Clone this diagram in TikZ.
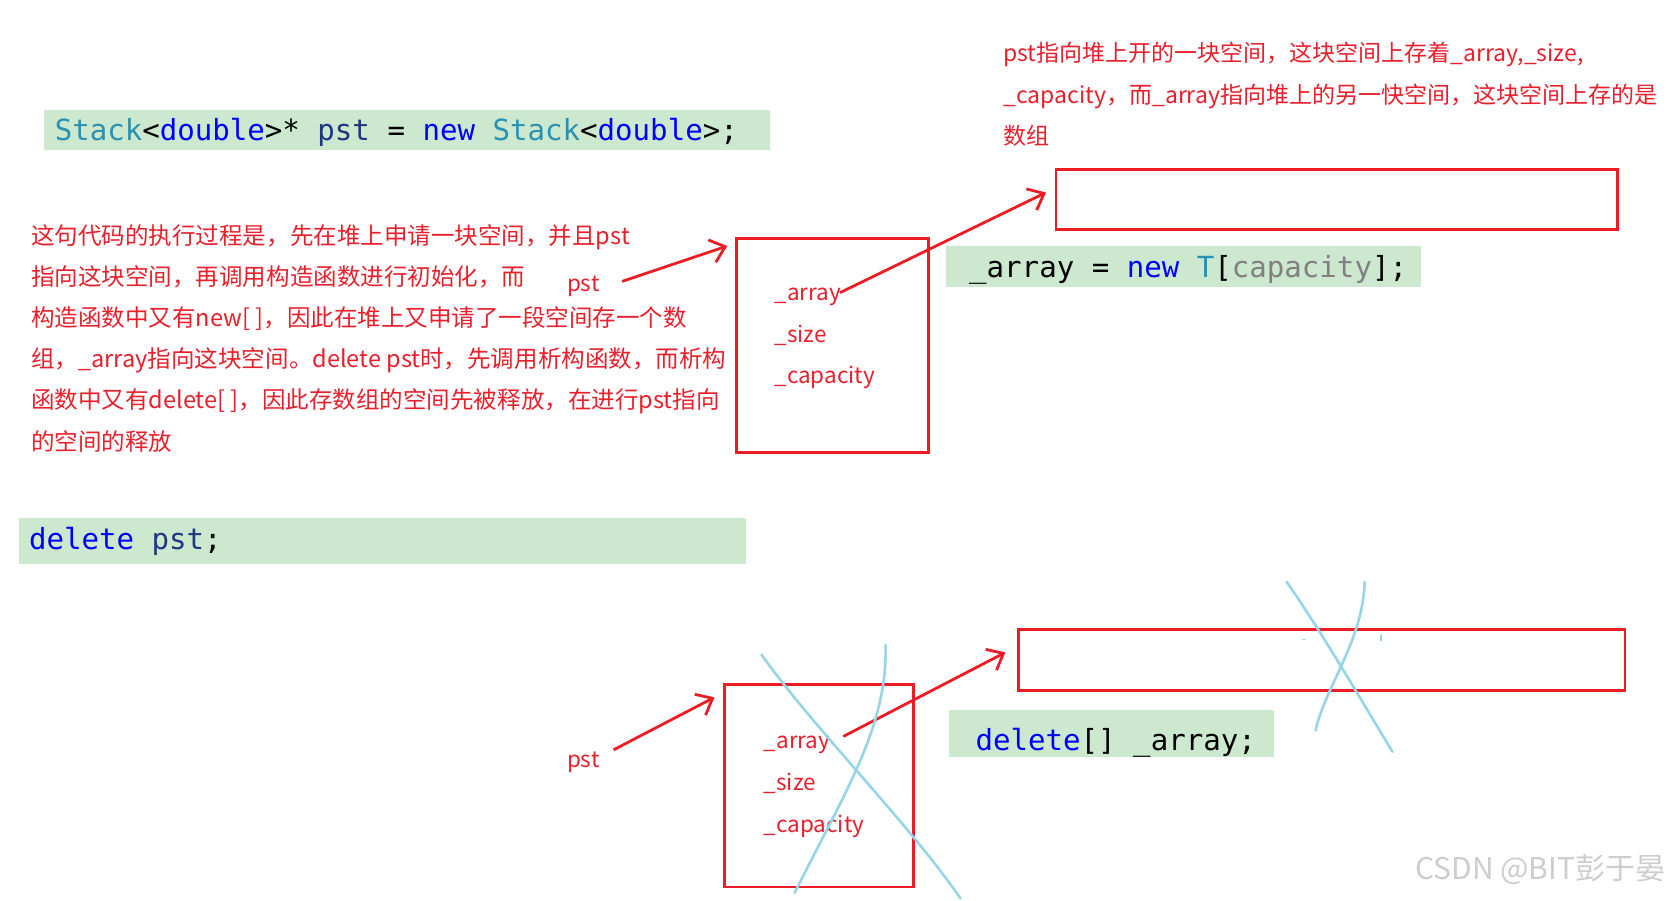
\documentclass[tikz,border=0pt]{standalone}
\usepackage{fontspec}
\setmainfont{Noto Sans CJK SC}
\newfontfamily\codefont{DejaVu Sans Mono}
\usetikzlibrary{arrows.meta,calc}
\definecolor{redc}{RGB}{237,28,36}
\definecolor{txtred}{RGB}{232,32,44}
\definecolor{codebg}{RGB}{204,232,207}
\definecolor{kwblue}{RGB}{0,0,255}
\definecolor{typeteal}{RGB}{43,145,175}
\definecolor{varnavy}{RGB}{31,55,127}
\definecolor{pargray}{RGB}{128,128,128}
\definecolor{crossblue}{RGB}{150,212,232}
\definecolor{wmgray}{RGB}{205,205,205}
\begin{document}
\begin{tikzpicture}[x=1pt,y=-1pt,
  redtext/.style={text=txtred, font=\fontsize{22.0}{38.5}\selectfont, inner sep=0pt},
  notetext/.style={text=txtred, font=\fontsize{21.5}{38.5}\selectfont, inner sep=0pt},
  fieldtext/.style={text=txtred, font=\fontsize{21}{24}\selectfont, inner sep=0pt, anchor=base west},
  redbox/.style={draw=redc, line width=2.6pt, anchor=north west, inner sep=0pt},
  codebox/.style={fill=codebg, anchor=north west, inner sep=0pt},
  codetext/.style={font=\codefont\fontsize{27.2}{30}\selectfont, inner sep=0pt, anchor=base west},
  redarrow/.style={draw=redc, line width=2.6pt, -{Straight Barb[length=13pt,width=22pt,line width=2.6pt]}},
  crossline/.style={draw=crossblue, line width=2.4pt, line cap=round},
]
\fill[white] (0,0) rectangle (1568,842);
\useasboundingbox (0,0) rectangle (1568,842);

% code line 1
\node[codebox, minimum width=679pt, minimum height=37pt] (c1bg) at (41,103) {};
\node[codetext] (c1) at (51,131) {{\color{typeteal}Stack}<{\color{kwblue}double}>* {\color{varnavy}pst} = {\color{kwblue}new} {\color{typeteal}Stack}<{\color{kwblue}double}>;};

% top-right note
\node[notetext, anchor=north west, align=left] (note) at (938,39.5) {pst指向堆上开的一块空间，这块空间上存着\_array,\_size,\\\_capacity，而\_array指向堆上的另一快空间，这块空间上存的是\\数组};

% left description
\node[redtext, anchor=north west, align=left] (desc) at (29,209.5) {这句代码的执行过程是，先在堆上申请一块空间，并且pst\\指向这块空间，再调用构造函数进行初始化，而\\构造函数中又有new[ ]，因此在堆上又申请了一段空间存一个数\\组，\_array指向这块空间。delete pst时，先调用析构函数，而析构\\函数中又有delete[ ]，因此存数组的空间先被释放，在进行pst指向\\的空间的释放};

% upper object
\node[redbox, minimum width=180pt, minimum height=200pt] (box1) at (687,222) {};
\node[fieldtext] (arr1) at (724,281) {\_array};
\node[fieldtext] (size1) at (724,320) {\_size};
\node[fieldtext] (cap1) at (724,359) {\_capacity};
\node[fieldtext] (pst1) at (530,273) {pst};
\node[redbox, minimum width=525pt, minimum height=56pt] (arrbox1) at (986,157) {};

\node[codebox, minimum width=444pt, minimum height=38pt] (c2bg) at (884,230) {};
\node[codetext] (c2) at (906,259) {\_array = {\color{kwblue}new} {\color{typeteal}T}[{\color{pargray}capacity}];};

\draw[redarrow] ($(pst1.east)+(21,-5)$) -- ($(box1.north west)+(-7,8)$);
\draw[redarrow] ($(arr1.east)+(-1,-4)$) -- ($(arrbox1.north west)+(-8,23)$);

% delete pst
\node[codebox, minimum width=679pt, minimum height=43pt] (c3bg) at (18,484) {};
\node[codetext] (c3) at (27,514) {{\color{kwblue}delete} {\color{varnavy}pst};};

% lower object
\node[redbox, minimum width=177pt, minimum height=189pt] (box2) at (676,639) {};
\node[fieldtext] (arr2) at (714,700) {\_array};
\node[fieldtext] (size2) at (714,739) {\_size};
\node[fieldtext] (cap2) at (714,778) {\_capacity};
\node[fieldtext] (pst2) at (530,718) {pst};
\node[redbox, minimum width=567pt, minimum height=57pt] (arrbox2) at (951,587) {};

\node[codebox, minimum width=304pt, minimum height=44pt] (c4bg) at (887,664) {};
\node[codetext] (c4) at (912,702) {{\color{kwblue}delete}[] \_array;};

\draw[redarrow] ($(pst2.east)+(13,-12)$) -- ($(box2.north west)+(-8,13)$);
\draw[redarrow] ($(arr2.east)+(12,-8)$) -- ($(arrbox2.north west)+(-11,23)$);

% blue crosses
\draw[crossline] (712,612) .. controls (760,680) and (850,770) .. (898,840);
\draw[crossline] (828,603) .. controls (830,680) and (790,740) .. (743,835);
\draw[crossline] (1203,544) .. controls (1235,590) and (1270,650) .. (1302,703);
\draw[crossline] (1276,544) .. controls (1274,600) and (1240,640) .. (1230,683);
\draw[crossline, line width=1.5pt] (1218,598) -- (1220,598);
\draw[crossline, line width=1.5pt] (1291,594) -- (1291,599);

% watermark
\node[text=wmgray, font=\fontsize{28}{30}\selectfont, inner sep=0pt] (wm) at (1440,813) {CSDN @BIT彭于晏};
\end{tikzpicture}
\end{document}
